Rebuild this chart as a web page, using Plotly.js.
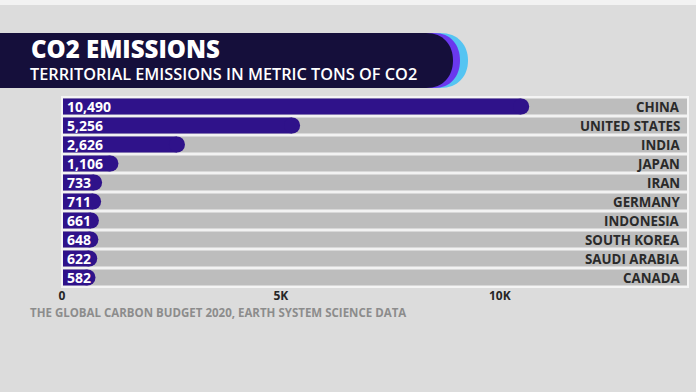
<!DOCTYPE html>
<html>
<head>
<meta charset="utf-8">
<script src="https://cdn.plot.ly/plotly-3.0.1.min.js"></script>
<style>html,body{margin:0;padding:0;background:#dcdcdc;}#chart{width:696px;height:392px;}</style>
</head>
<body>
<div id="chart"></div>
<script>
// ---- data ----
var countries = ['CHINA','UNITED STATES','INDIA','JAPAN','IRAN','GERMANY','INDONESIA','SOUTH KOREA','SAUDI ARABIA','CANADA'];
var emissions = [10490, 5256, 2626, 1106, 733, 711, 661, 648, 622, 582];
var valueLabels = ['10,490','5,256','2,626','1,106','733','711','661','648','622','582'];
var tickVals = [0, 5000, 10000];
var tickText = ['0', '5K', '10K'];
var axisMax = 14300;
var fullTrack = countries.map(function(){ return axisMax; });

// ---- layout geometry ----
var W = 696, H = 392, ML = 62, MR = 8, MT = 97, MB = 105;
var PW = W - ML - MR, PH = H - MT - MB;
function px(x){ return (x - ML) / PW; }
function py(y){ return (H - MB - y) / PH; }

var barColor = '#2f128a';
var font = 'Open Sans, Lato, sans-serif';

var traces = [
  { type:'bar', orientation:'h', x: fullTrack, y: countries, marker:{color:'#bdbdbd'}, hoverinfo:'skip', showlegend:false },
  { type:'bar', orientation:'h', x: emissions, y: countries, marker:{color:barColor}, hoverinfo:'skip', showlegend:false },
  { type:'scatter', mode:'markers', x: emissions, y: countries, marker:{color:barColor, size:16, symbol:'circle'}, hoverinfo:'skip', showlegend:false, cliponaxis:false }
];

var annotations = [];
countries.forEach(function(c, i){
  annotations.push({x:0, y:c, xref:'x', yref:'y', xanchor:'left', yanchor:'middle', xshift:3, showarrow:false,
    text:valueLabels[i], font:{family:font, size:14, color:'#ffffff', weight:700}});
  annotations.push({x:axisMax, y:c, xref:'x', yref:'y', xanchor:'right', yanchor:'middle', xshift:-6, showarrow:false,
    text:c, font:{family:font, size:13.3, color:'#2a2a2a', weight:700}});
});

annotations.push(
  {xref:'paper', yref:'paper', x:px(29), y:py(48), xanchor:'left', yanchor:'middle', showarrow:false,
    text:'CO2 EMISSIONS', font:{family:font, size:24, color:'#ffffff', weight:800}},
  {xref:'paper', yref:'paper', x:px(28), y:py(74), xanchor:'left', yanchor:'middle', showarrow:false,
    text:'TERRITORIAL EMISSIONS IN METRIC TONS OF CO2', font:{family:font, size:16.3, color:'#ffffff', weight:600}},
  {xref:'paper', yref:'paper', x:px(28), y:py(312), xanchor:'left', yanchor:'middle', showarrow:false,
    text:'THE GLOBAL CARBON BUDGET 2020, EARTH SYSTEM SCIENCE DATA', font:{family:font, size:11.5, color:'#8c8c8c', weight:700}}
);

function capPath(xs, x0, xr){
  return 'M '+px(xs)+','+py(33)+' L '+px(x0)+','+py(33)+
    ' C '+px(x0+(xr-x0)*0.65)+','+py(33)+' '+px(xr)+','+py(45)+' '+px(xr)+','+py(60.5)+
    ' C '+px(xr)+','+py(76)+' '+px(x0+(xr-x0)*0.65)+','+py(88)+' '+px(x0)+','+py(88)+
    ' L '+px(xs)+','+py(88)+' Z';
}

var layout = {
  width: W, height: H,
  margin:{l:ML, r:MR, t:MT, b:MB, pad:0},
  paper_bgcolor:'#dcdcdc', plot_bgcolor:'#f2f2f2',
  barmode:'overlay', bargap:0.16,
  font:{family:font},
  xaxis:{range:[0, axisMax], tickvals:tickVals, ticktext:tickText, showgrid:false, zeroline:false,
    showline:false, ticks:'', tickfont:{family:font, size:12, color:'#262626', weight:700}, fixedrange:true},
  yaxis:{range:[countries.length - 0.5, -0.5], showticklabels:false, showgrid:false, zeroline:false, showline:false, ticks:'', fixedrange:true},
  shapes:[
    {type:'rect', xref:'paper', yref:'paper', x0:px(0), x1:px(W), y0:py(0), y1:py(5), fillcolor:'#f2f2f2', line:{width:0}, layer:'below'},
    {type:'path', xref:'paper', yref:'paper', path:capPath(300, 440, 468), fillcolor:'#55c4f2', line:{width:0}},
    {type:'path', xref:'paper', yref:'paper', path:capPath(300, 434, 460), fillcolor:'#6a38ee', line:{width:0}},
    {type:'path', xref:'paper', yref:'paper', path:capPath(0, 426, 453), fillcolor:'#150f3b', line:{width:0}},
    {type:'rect', xref:'paper', yref:'paper', x0:0, x1:1, y0:0, y1:1, line:{color:'#f4f4f4', width:2}, fillcolor:'rgba(0,0,0,0)'}
  ],
  annotations: annotations
};

Plotly.newPlot('chart', traces, layout, {displayModeBar:false, staticPlot:true});
</script>
</body>
</html>
